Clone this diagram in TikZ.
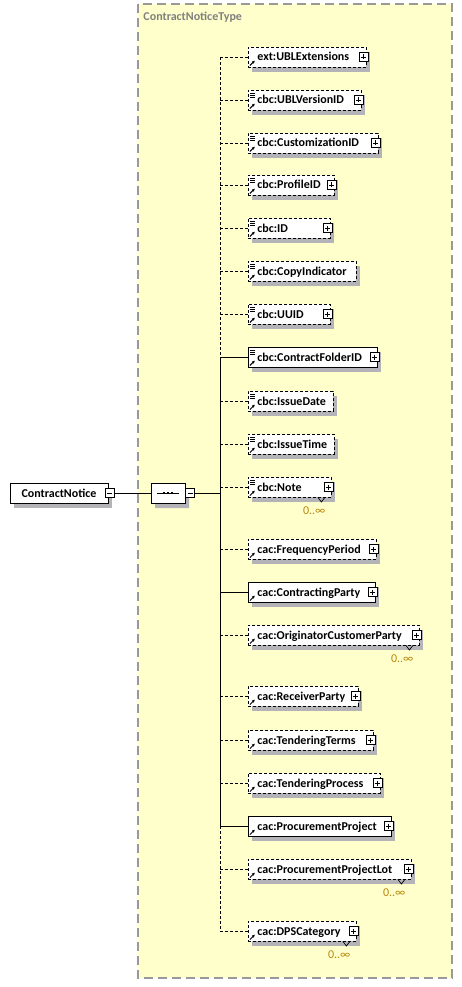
\documentclass[tikz,border=0pt]{standalone}
\usepackage{fontspec}
\setmainfont{Carlito}
\usetikzlibrary{positioning,shapes.misc,arrows.meta}
\hyphenpenalty=10000
\definecolor{typefill}{HTML}{FFFFCC}
\definecolor{typeedge}{HTML}{999999}
\definecolor{typetext}{HTML}{808080}
\definecolor{shadowgray}{HTML}{B4B4B8}
\definecolor{occurs}{HTML}{B8860B}
\tikzset{elem/.style = {draw, fill=white, anchor=west, minimum height=20pt, inner xsep=4.5pt, inner ysep=0pt, text height=9pt, text depth=1pt, align=left, execute at begin node={\hspace*{4.5pt}}}}
\tikzset{opt/.style = {elem, dash pattern=on 3pt off 2pt}}
\tikzset{req/.style = {elem}}
\tikzset{elemshadow/.style = {anchor=west, minimum height=20pt, inner xsep=4.5pt, inner ysep=0pt, text height=9pt, text depth=1pt, align=left, execute at begin node={\hspace*{4.5pt}}, fill=shadowgray, draw=none}}
\tikzset{cplx/.style = {path picture={
  \draw[solid, line width=1pt, -{Latex[length=3pt,width=3pt]}] ([shift={(1.5pt,1.5pt)}]path picture bounding box.south west) -- ++(5pt,5pt);}}}
\tikzset{leaf/.style = {path picture={
  \draw[solid, line width=0.7pt] \foreach \k in {3.5pt,5.5pt,7.5pt} {([shift={(2pt,-\k)}]path picture bounding box.north west) -- ++(5pt,0pt)};
  \draw[solid, line width=1pt, -{Latex[length=3pt,width=3pt]}] ([shift={(1.5pt,1.5pt)}]path picture bounding box.south west) -- ++(5pt,5pt);}}}
\tikzset{root/.style = {draw, fill=white, minimum width=98pt, minimum height=20pt, inner sep=0pt, text height=9pt, text depth=1pt}}
\tikzset{seqshape/.style = {chamfered rectangle, chamfered rectangle xsep=4pt, chamfered rectangle ysep=4pt, minimum width=34pt, minimum height=20pt, inner sep=0pt}}
\tikzset{seq/.style = {seqshape, draw, fill=white,
  path picture={
    \draw[line width=0.9pt] ([xshift=-11pt]path picture bounding box.center) -- ([xshift=11pt]path picture bounding box.center);
    \foreach \dx in {-4pt,0pt,4pt} {\fill[black] ([shift={(\dx-1.2pt,-1.2pt)}]path picture bounding box.center) rectangle +(2.4pt,2.4pt);}}}}
\tikzset{togglebox/.style = {draw, solid, fill=white, minimum size=9pt, inner sep=0pt, line width=0.8pt}}
\tikzset{plusbox/.style = {togglebox, path picture={
  \draw[line width=0.8pt] ([yshift=-2pt]path picture bounding box.north) -- ([yshift=2pt]path picture bounding box.south)
    ([xshift=2pt]path picture bounding box.west) -- ([xshift=-2pt]path picture bounding box.east);}}}
\tikzset{minusbox/.style = {togglebox, path picture={
  \draw[line width=0.8pt] ([xshift=2pt]path picture bounding box.west) -- ([xshift=-2pt]path picture bounding box.east);}}}
\tikzset{occ/.style = {font=\fontsize{12}{14}\selectfont, text=occurs, inner sep=0pt}}

% element box with its shadow: style, text width, name, y, text
\newcommand\elembox[5]{%
  \node[elemshadow, text width=#2pt] (#3shadow) at (252,#4+5) {\phantom{#5}};
  \node[#1, text width=#2pt] (#3) at (248,#4) {#5};}
\newcommand\plusmark[1]{\node[plusbox] (#1plus) at ([xshift=-3.5pt]#1.east) {};}
\newcommand\manymark[1]{%
  \draw[line width=0.7pt] ([xshift=-14pt]#1.south east) -- ([xshift=-10.5pt,yshift=-4.5pt]#1.south east) -- ([xshift=-7pt]#1.south east);
  \node[occ, anchor=east] (#1many) at ([xshift=-6pt,yshift=-13.5pt]#1.south east) {0..∞};}

\begin{document}
\begin{tikzpicture}[x=1pt, y=-1pt, line width=0.9pt, font=\fontsize{12}{14}\selectfont\bfseries, optline/.style={dash pattern=on 3pt off 2pt}]
  \useasboundingbox (0,0) rectangle (462,987);
  % complex type
  \draw[fill=typefill, draw=typeedge, line width=1.2pt, dash pattern=on 9pt off 5pt] (138,4) rectangle (452,978);
  \node[anchor=west, text=typetext, inner sep=0pt] (typename) at (143,17) {ContractNoticeType};

  \node[root, draw=none, fill=shadowgray] (noticeshadow) at (63,498) {\phantom{ContractNotice}};
  \node[root] (notice) at (59,493) {ContractNotice};
  \node[minusbox] (noticeminus) at ([xshift=1pt]notice.east) {};
  \node[seqshape, fill=shadowgray] (seqshadow) at (172,498) {};
  \node[seq] (seq) at (168,493) {};
  \node[minusbox, anchor=west] (seqminus) at (seq.east) {};
  \coordinate (spine) at (220,493);

  % sequence children
  \elembox{opt, cplx}{109}{ublext}{57}{ext:UBLExtensions}
  \elembox{opt, leaf}{104}{ublver}{100}{cbc:UBLVersionID}
  \elembox{opt, leaf}{121}{custid}{143}{cbc:CustomizationID}
  \elembox{opt, leaf}{77}{profid}{185}{cbc:ProfileID}
  \elembox{opt, leaf}{73}{id}{228}{cbc:ID}
  \elembox{opt, leaf}{99}{copyind}{271}{cbc:CopyIndicator}
  \elembox{opt, leaf}{73}{uuid}{314}{cbc:UUID}
  \elembox{req, leaf}{120}{cfid}{357}{cbc:ContractFolderID}
  \elembox{opt, leaf}{76}{idate}{401}{cbc:IssueDate}
  \elembox{opt, leaf}{77}{itime}{444}{cbc:IssueTime}
  \elembox{opt, leaf}{74}{note}{487}{cbc:Note}
  \elembox{opt, cplx}{119}{freq}{549}{cac:FrequencyPeriod}
  \elembox{req, cplx}{118}{cparty}{592}{cac:ContractingParty}
  \elembox{opt, cplx}{162}{origparty}{635}{cac:OriginatorCustomerParty}
  \elembox{opt, cplx}{101}{recparty}{696}{cac:ReceiverParty}
  \elembox{opt, cplx}{116}{tterms}{740}{cac:TenderingTerms}
  \elembox{opt, cplx}{123}{tproc}{783}{cac:TenderingProcess}
  \elembox{req, cplx}{134}{pproj}{826}{cac:ProcurementProject}
  \elembox{opt, cplx}{154}{plot}{869}{cac:ProcurementProjectLot}
  \elembox{opt, cplx}{99}{dps}{931}{cac:DPSCategory}

  \foreach \n in {ublext, ublver, custid, profid, id, uuid, cfid, note, freq, cparty, origparty, recparty, tterms, tproc, pproj, plot, dps}
    {\plusmark{\n}}
  \foreach \n in {note, origparty, plot, dps}
    {\manymark{\n}}

  % connectors
  \draw (noticeminus) -- (seq);
  \draw (seqminus) -- (spine);
  \draw[optline] (ublext.west -| spine) -- (cfid.west -| spine);
  \draw (cfid.west -| spine) -- (pproj.west -| spine);
  \draw[optline] (pproj.west -| spine) -- (dps.west -| spine);
  \foreach \n in {ublext, ublver, custid, profid, id, copyind, uuid, idate, itime, note, freq, origparty, recparty, tterms, tproc, plot, dps}
    \draw[optline] (\n.west -| spine) -- (\n.west);
  \foreach \n in {cfid, cparty, pproj}
    \draw (\n.west -| spine) -- (\n.west);
\end{tikzpicture}
\end{document}
